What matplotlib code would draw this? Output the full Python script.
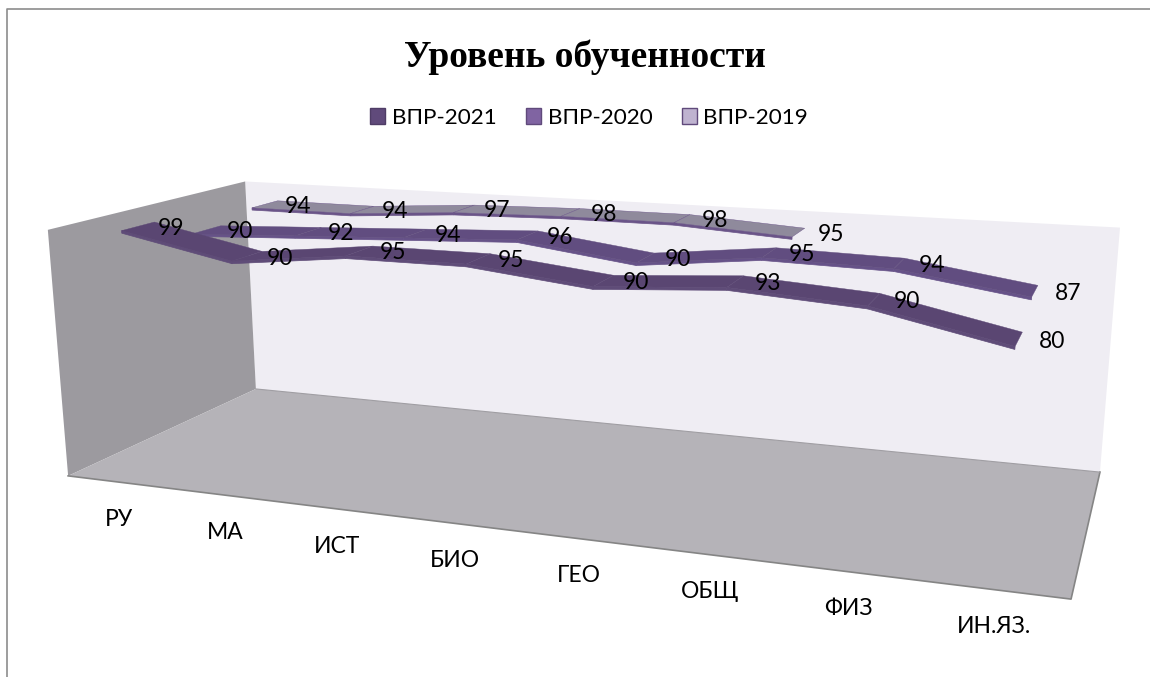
import numpy as np
import matplotlib
matplotlib.use("Agg")
import matplotlib.pyplot as plt
from matplotlib.patches import Patch

categories = ["РУ", "МА", "ИСТ", "БИО", "ГЕО", "ОБЩ", "ФИЗ", "ИН.ЯЗ."]
vpr_2021 = [99, 90, 95, 95, 90, 93, 90, 80]
vpr_2020 = [90, 92, 94, 96, 90, 95, 94, 87]
vpr_2019 = [94, 94, 97, 98, 98, 95]

plt.rcParams["font.family"] = ["Lato", "DejaVu Sans"]

# box corners (category, depth, value) and where they land on the picture
box = [(0, 0, 0), (8, 0, 0), (0, 3, 0), (8, 3, 0), (0, 0, 100), (0, 3, 100), (8, 3, 100)]
screen = [(68, 475), (1071, 600), (256, 390), (1100, 471), (48, 230), (245, 181), (1120, 228)]

rows, rhs = [], []
for (x, y, z), (u, v) in zip(box, screen):
    rows.append([x, y, z, 1, 0, 0, 0, 0, -u * x, -u * y, -u * z])
    rows.append([0, 0, 0, 0, x, y, z, 1, -v * x, -v * y, -v * z])
    rhs += [u, v]
cam = np.append(np.linalg.lstsq(np.array(rows, float), np.array(rhs, float), rcond=None)[0], 1).reshape(3, 4)


def project(x, y, z):
    p = cam @ np.array([x, y, z, 1.0])
    return p[0] / p[2], p[1] / p[2]


def face(ax, corners, **kw):
    pts = [project(*c) for c in corners]
    ax.fill([p[0] for p in pts], [p[1] for p in pts], **kw)


def ribbon(ax, values, depth, top, side, edge):
    half = 0.23
    thick = 1.0
    for i in range(len(values) - 1):
        x0, x1 = i + 0.5, i + 1.5
        z0, z1 = values[i], values[i + 1]
        face(ax, [(x0, depth - half, z0), (x1, depth - half, z1), (x1, depth - half, z1 - thick), (x0, depth - half, z0 - thick)],
             facecolor=side, edgecolor=side, linewidth=0.5, zorder=3)
        face(ax, [(x0, depth - half, z0), (x1, depth - half, z1), (x1, depth + half, z1), (x0, depth + half, z0)],
             facecolor=top, edgecolor=edge, linewidth=0.3, zorder=3)
    # label sits to the right of every point
    for i, v in enumerate(values):
        u, w = project(i + 0.5, depth, v)
        ax.text(u + 33, w + 2, str(v), fontsize=16.5, ha="center", va="center", color="black", zorder=5)


fig = plt.figure(figsize=(11.5, 6.77), dpi=100)
ax = fig.add_axes([0, 0, 1, 1])
ax.set_xlim(0, 1150)
ax.set_ylim(677, 0)
ax.axis("off")

# chart frame
ax.plot([7, 7, 1150], [677, 9, 9], color="#8c8c8c", linewidth=1.2, zorder=1)

# walls and floor
face(ax, [(0, 3, 0), (8, 3, 0), (8, 3, 100), (0, 3, 100)], facecolor="#efedf3", edgecolor="none", zorder=2)
face(ax, [(0, 0, 0), (0, 3, 0), (0, 3, 100), (0, 0, 100)], facecolor="#9c9a9f", edgecolor="none", zorder=2)
face(ax, [(0, 0, 0), (8, 0, 0), (8, 3, 0), (0, 3, 0)], facecolor="#b5b3b8", edgecolor="none", zorder=2)
floor_edge = [project(0, 0, 0), project(8, 0, 0), project(8, 3, 0)]
ax.plot([p[0] for p in floor_edge], [p[1] for p in floor_edge], color="#858585", linewidth=1.2, zorder=2)
back_edge = [project(0, 3, 0), project(8, 3, 0)]
ax.plot([p[0] for p in back_edge], [p[1] for p in back_edge], color="#a09ea3", linewidth=0.8, zorder=2)

ribbon(ax, vpr_2019, 2.5, "#8f8a9c", "#6a5488", "#6a5488")
ribbon(ax, vpr_2020, 1.5, "#614d80", "#665288", "#63507f")
ribbon(ax, vpr_2021, 0.5, "#5a4672", "#5f4c78", "#5c4875")

for i, name in enumerate(categories):
    u, w = project(i + 0.5, 0, 0)
    ax.text(u - 1, w + 37, name, fontsize=16.5, ha="center", va="center", color="black", zorder=5)

ax.text(585, 57, "Уровень обученности", fontsize=27, fontweight="bold", ha="center", va="center",
        family=["Liberation Serif"], color="black")

handles = [
    Patch(facecolor="#604a7b", edgecolor="#4f3d66", label="ВПР-2021"),
    Patch(facecolor="#8064a2", edgecolor="#604a7b", label="ВПР-2020"),
    Patch(facecolor="#bfb3d0", edgecolor="#604a7b", label="ВПР-2019"),
]
ax.legend(handles=handles, ncol=3, loc="center", bbox_to_anchor=(589 / 1150, 1 - 118 / 677), frameon=False,
          fontsize=16.2, handlelength=0.67, handleheight=0.67, handletextpad=0.3, columnspacing=1.3)

fig.savefig("out.png", dpi=100)
